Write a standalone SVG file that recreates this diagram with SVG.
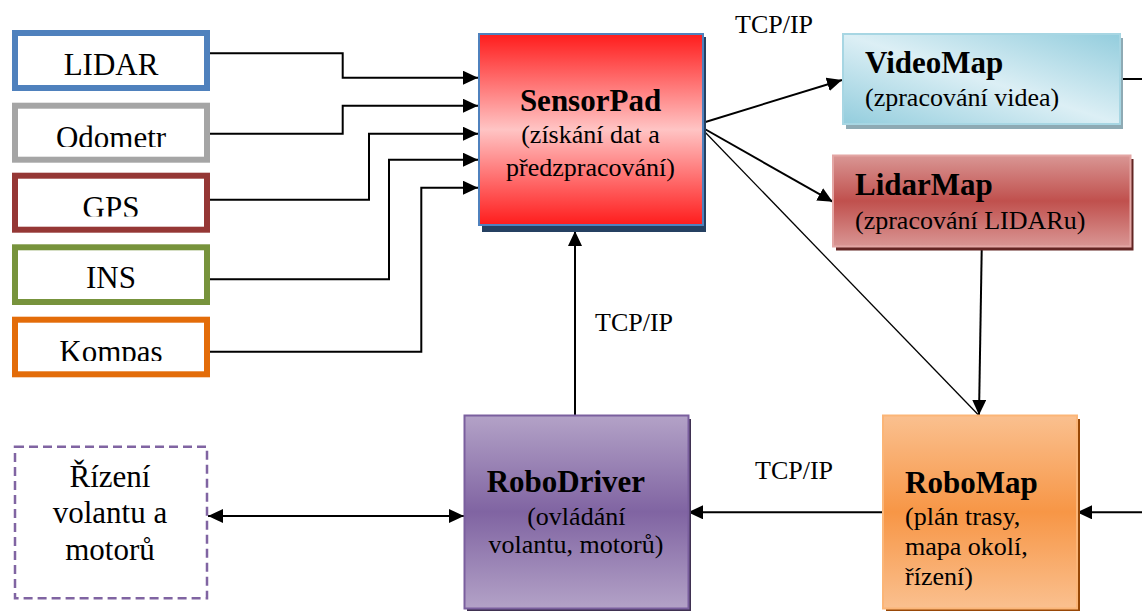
<svg xmlns="http://www.w3.org/2000/svg" width="1142" height="611" viewBox="0 0 1142 611" font-family="'Liberation Serif', 'Times New Roman', Times, serif">
<style>
text{font-family:'Liberation Serif','Times New Roman',Times,serif;fill:#000}
.lbl{font-size:31px;text-anchor:middle}
.ttl{font-size:31px;font-weight:bold}
.sub{font-size:26px}
.tcp{font-size:26px}
.src{fill:#fff;stroke-width:6}
.ln{fill:none;stroke:#000;stroke-width:2}
.thin{fill:none;stroke:#000;stroke-width:1.3}
</style>
<defs>
<marker id="ah" markerUnits="userSpaceOnUse" markerWidth="16" markerHeight="15" refX="15" refY="7" orient="auto-start-reverse">
<path d="M0,0 L15,7 L0,14 z" fill="#000"/>
</marker>
<linearGradient id="gSensor" x1="0" y1="0" x2="0" y2="1">
<stop offset="0" stop-color="#ff1c1c"/><stop offset="0.5" stop-color="#ffc4c4"/><stop offset="1" stop-color="#ff1c1c"/>
</linearGradient>
<linearGradient id="gVideo" x1="0" y1="1" x2="1" y2="0">
<stop offset="0" stop-color="#93cddd"/><stop offset="0.5" stop-color="#dceff5"/><stop offset="1" stop-color="#93cddd"/>
</linearGradient>
<linearGradient id="gLidar" x1="0" y1="0" x2="0" y2="1">
<stop offset="0" stop-color="#d99694"/><stop offset="0.5" stop-color="#c0504d"/><stop offset="1" stop-color="#d99694"/>
</linearGradient>
<linearGradient id="gDriver" x1="0" y1="0" x2="0" y2="1">
<stop offset="0" stop-color="#b3a2c7"/><stop offset="0.5" stop-color="#8064a2"/><stop offset="1" stop-color="#b3a2c7"/>
</linearGradient>
<linearGradient id="gMap" x1="0" y1="0" x2="0" y2="1">
<stop offset="0" stop-color="#fac08f"/><stop offset="0.5" stop-color="#f79646"/><stop offset="1" stop-color="#fac08f"/>
</linearGradient>
<clipPath id="c1"><rect x="18" y="36" width="186" height="40"/></clipPath>
<clipPath id="c2"><rect x="18" y="108" width="186" height="39"/></clipPath>
<clipPath id="c3"><rect x="18" y="178" width="186" height="38.5"/></clipPath>
<clipPath id="c4"><rect x="18" y="250" width="186" height="38.5"/></clipPath>
<clipPath id="c5"><rect x="18" y="322" width="186" height="39"/></clipPath>
</defs>

<g id="connectors">
<path class="ln" d="M206,53.3 H342.7 V77.7 H478" marker-end="url(#ah)"/>
<path class="ln" d="M206,133.7 H342.7 V105.7 H478" marker-end="url(#ah)"/>
<path class="ln" d="M206,199.7 H369 V133.7 H478" marker-end="url(#ah)"/>
<path class="ln" d="M206,279.3 H389 V159.7 H478" marker-end="url(#ah)"/>
<path class="ln" d="M206,351.7 H421.3 V187.7 H478" marker-end="url(#ah)"/>
<path class="ln" d="M703,122.7 L842,80" marker-end="url(#ah)"/>
<path class="ln" d="M703,128 L832.7,201.7" marker-end="url(#ah)"/>
<path class="thin" d="M703,130 L978.5,415"/>
<path class="ln" d="M981.7,250 L979,415" marker-end="url(#ah)"/>
<path class="ln" d="M575,415 V231" marker-end="url(#ah)"/>
<path class="ln" d="M882.7,512.3 H688" marker-end="url(#ah)"/>
<path class="ln" d="M1142,512.3 H1077" marker-end="url(#ah)"/>
<path class="ln" d="M1120,79 H1142"/>
<path class="ln" d="M208,516 H464" marker-start="url(#ah)" marker-end="url(#ah)"/>
<text class="tcp" x="735" y="33.3">TCP/IP</text>
<text class="tcp" x="595" y="331">TCP/IP</text>
<text class="tcp" x="755" y="479.3">TCP/IP</text>
</g>

<g id="lidar">
<rect class="src" x="15" y="33" width="192" height="55" stroke="#4f81bd"/>
<text class="lbl" x="111" y="75" clip-path="url(#c1)">LIDAR</text>
</g>
<g id="odometr">
<rect class="src" x="15" y="105.7" width="192" height="54" stroke="#a5a5a5"/>
<text class="lbl" x="111" y="148" clip-path="url(#c2)">Odometr</text>
</g>
<g id="gps">
<rect class="src" x="15" y="175.7" width="192" height="54" stroke="#953735"/>
<text class="lbl" x="111" y="217.5" clip-path="url(#c3)">GPS</text>
</g>
<g id="ins">
<rect class="src" x="15" y="247.3" width="192" height="54.7" stroke="#77933c"/>
<text class="lbl" x="111" y="288.3" clip-path="url(#c4)">INS</text>
</g>
<g id="kompas">
<rect class="src" x="15" y="319.7" width="192" height="54.6" stroke="#e36c09"/>
<text class="lbl" x="111" y="362" clip-path="url(#c5)">Kompas</text>
</g>

<g id="sensorpad">
<rect x="482" y="37" width="224" height="195" fill="#254061"/>
<rect x="479" y="34" width="224" height="191" fill="url(#gSensor)" stroke="#4f81bd" stroke-width="2"/>
<text class="ttl" x="590.5" y="110.7" text-anchor="middle">SensorPad</text>
<text class="sub" x="590.5" y="142.7" text-anchor="middle">(získání dat a</text>
<text class="sub" x="590.5" y="176" text-anchor="middle">předzpracování)</text>
</g>

<g id="videomap">
<rect x="846" y="38" width="277" height="91" fill="#8eaab4"/>
<rect x="843" y="34" width="277" height="90" fill="url(#gVideo)" stroke="#a7d6e3" stroke-width="2"/>
<text class="ttl" x="865" y="73.3">VideoMap</text>
<text class="sub" x="865" y="106">(zpracování videa)</text>
</g>

<g id="lidarmap">
<rect x="836" y="159" width="297.5" height="91.5" fill="#632523"/>
<rect x="833" y="155.5" width="297.5" height="91" fill="url(#gLidar)" stroke="#e3a6a4" stroke-width="2"/>
<text class="ttl" x="855" y="195">LidarMap</text>
<text class="sub" x="855" y="229.3">(zpracování LIDARu)</text>
</g>

<g id="robodriver">
<rect x="467" y="419" width="224" height="194" fill="#3f3151"/>
<rect x="464.5" y="415.5" width="224" height="193" fill="url(#gDriver)" stroke="#7a5f9e" stroke-width="2"/>
<text class="ttl" x="486.7" y="491.7">RoboDriver</text>
<text class="sub" x="576.3" y="525" text-anchor="middle">(ovládání</text>
<text class="sub" x="576" y="553.3" text-anchor="middle">volantu, motorů)</text>
</g>

<g id="robomap">
<rect x="886" y="419" width="194" height="194" fill="#984807"/>
<rect x="883" y="415.5" width="194" height="193" fill="url(#gMap)" stroke="#fbb577" stroke-width="2"/>
<text class="ttl" x="905" y="493.3">RoboMap</text>
<text class="sub" x="905" y="525">(plán trasy,</text>
<text class="sub" x="905" y="555">mapa okolí,</text>
<text class="sub" x="905" y="585">řízení)</text>
</g>

<g id="rizeni">
<rect x="15" y="446.7" width="192" height="151.6" fill="#fff" stroke="#8064a2" stroke-width="2.5" stroke-dasharray="9 5"/>
<text class="lbl" x="110" y="486.7">Řízení</text>
<text class="lbl" x="110" y="523.3">volantu a</text>
<text class="lbl" x="110" y="560">motorů</text>
</g>
</svg>
